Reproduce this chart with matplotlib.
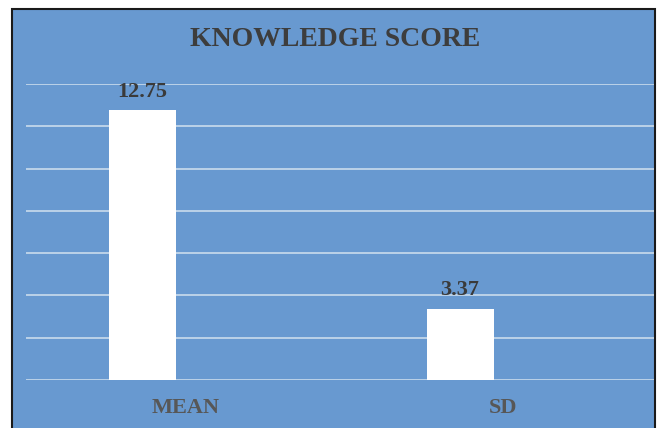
import matplotlib
matplotlib.use("Agg")
import matplotlib.pyplot as plt
from matplotlib.patches import Rectangle

categories = ["MEAN", "SD"]
values = [12.75, 3.37]
value_labels = ["12.75", "3.37"]
title = "KNOWLEDGE SCORE"

W, H = 660, 428
fig = plt.figure(figsize=(W / 100, H / 100), dpi=100)
fig.patch.set_facecolor("white")

bg = "#6899d0"
# chart area with border
fig.patches.append(Rectangle((11.5 / W, -0.01), (654.5 - 11.5) / W, (H - 9.5) / H + 0.01,
                             transform=fig.transFigure, facecolor=bg,
                             edgecolor="#1a1a1a", linewidth=1.5, zorder=-10))

left, right = 26 / W, 654 / W
bottom, top = (H - 380) / H, (H - 84) / H
ax = fig.add_axes([left, bottom, right - left, top - bottom])
ax.set_zorder(1)
ax.set_facecolor("none")
for s in ax.spines.values():
    s.set_visible(False)

x = [0, 1]
ax.bar(x, values, width=0.211, color="white", zorder=3)
ax.set_ylim(0, 14)
ax.set_xlim(-0.367, 1.611)
for yv in range(0, 15, 2):
    ax.axhline(yv, color="#d3e2ef", linewidth=1.1, zorder=1)
ax.set_yticks([])
ax.set_xticks([])

# category labels (shifted right of bar centres, as in the original)
for xi, cat in zip(x, categories):
    ax.annotate(cat, (xi, 0), xytext=(43, -28), textcoords="offset pixels",
                ha="center", va="center", fontfamily="Liberation Serif",
                fontweight="bold", fontsize=16, color="#575757",
                annotation_clip=False)

for xi, v, lab in zip(x, values, value_labels):
    ax.annotate(lab, (xi, v), xytext=(0, 6), textcoords="offset points",
                ha="center", va="bottom", fontfamily="Liberation Serif",
                fontweight="bold", fontsize=16, color="#3a3a3a", zorder=4)

fig.text(335 / W, (H - 40) / H, title, ha="center", va="center",
         fontfamily="Liberation Serif", fontweight="bold", fontsize=20,
         color="#3d3d3d", zorder=5)

fig.savefig("out.png", dpi=100)
